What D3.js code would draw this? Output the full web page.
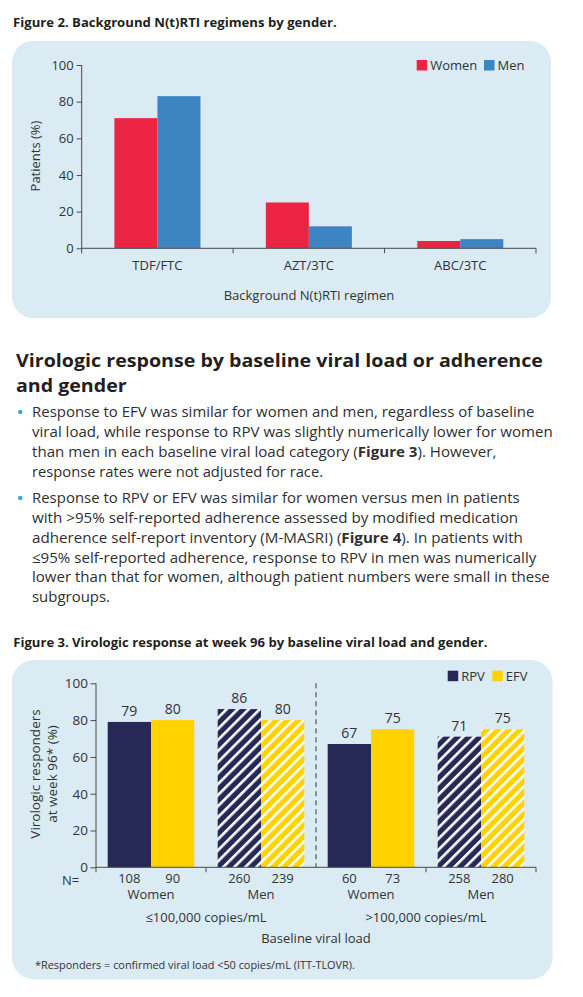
<!DOCTYPE html>
<html><head><meta charset="utf-8">
<script src="https://cdn.jsdelivr.net/npm/d3@7"></script>
<style>
body{margin:0;background:#fff}
svg{display:block}
text{font-family:"Open Sans",sans-serif}
</style>
</head><body>
<svg id="c" width="583" height="997"></svg>
<script>
// ---------- Figure 2 data ----------
const regimens = ["TDF/FTC", "AZT/3TC", "ABC/3TC"];
const genders = ["Women", "Men"];
const womenPct = [71, 25, 4];
const menPct = [83, 12, 5];
const fig2Ticks = [0, 20, 40, 60, 80, 100];

// ---------- Figure 3 data ----------
const groups = ["lowWomen", "lowMen", "highWomen", "highMen"];
const groupSex = ["Women", "Men", "Women", "Men"];
const loadCats = ["\u2264100,000 copies/mL", ">100,000 copies/mL"];
const drugs = ["RPV", "EFV"];
const rpvPct = [79, 86, 67, 71];
const efvPct = [80, 80, 75, 75];
const rpvN = [108, 260, 60, 258];
const efvN = [90, 239, 73, 280];
const fig3Ticks = [0, 20, 40, 60, 80, 100];

// ---------- styles ----------
const PANEL = "#DAEBF3", AX = "#4a4a4a", TXT = "#333333", DARK = "#231F20";
const RED = "#EC2444", BLUE = "#3D84C3", NAVY = "#262855", YEL = "#FFD200";

const svg = d3.select("#c");
svg.append("rect").attr("width", 583).attr("height", 997).attr("fill", "#fff");
const defs = svg.append("defs");
function hatch(id, color) {
  const p = defs.append("pattern").attr("id", id).attr("patternUnits", "userSpaceOnUse")
    .attr("width", 7.8).attr("height", 7.8).attr("patternTransform", "rotate(45)");
  p.append("rect").attr("width", 7.8).attr("height", 7.8).attr("fill", color);
  p.append("rect").attr("width", 2.6).attr("height", 7.8).attr("fill", "#fff");
}
hatch("hNavy", NAVY); hatch("hYel", YEL);

// text fitting helper: segments [[str, bold], ...]
function fitLine(segs, x, y, endX, size, weight, color) {
  const t = svg.append("text").attr("x", 0).attr("y", 0)
    .attr("font-size", size).attr("fill", color).attr("font-weight", weight);
  segs.forEach(s => t.append("tspan").attr("font-weight", s[1] ? 700 : weight).text(s[0]));
  const w = t.node().getComputedTextLength();
  const sx = (endX - x) / w;
  t.attr("transform", `translate(${x},${y}) scale(${sx},1)`);
  return t;
}

// ---------- Figure 2 ----------
fitLine([["Figure 2. Background N(t)RTI regimens by gender.", true]], 13, 26.5, 337, 13, 700, DARK);
svg.append("rect").attr("x", 12).attr("y", 41).attr("width", 539).attr("height", 277)
  .attr("rx", 21).attr("fill", PANEL);

const y2 = d3.scaleLinear().domain([0, 100]).range([248.3, 65]);
const x2 = d3.scaleBand().domain(regimens).range([81.7, 536]);
const xs2 = d3.scaleBand().domain(genders).range([0, x2.bandwidth()]).paddingOuter(0.76);
const g2 = svg.append("g");

const rows2 = regimens.map((r, i) => ({ r, vals: [["Women", womenPct[i]], ["Men", menPct[i]]] }));
g2.selectAll("g.cat").data(rows2).join("g").attr("class", "cat")
  .attr("transform", d => `translate(${x2(d.r)},0)`)
  .selectAll("rect").data(d => d.vals).join("rect")
  .attr("x", d => xs2(d[0])).attr("width", xs2.bandwidth())
  .attr("y", d => y2(d[1])).attr("height", d => y2(0) - y2(d[1]))
  .attr("fill", d => d[0] === "Women" ? RED : BLUE);

// y axis
const ya2 = g2.append("g").attr("transform", `translate(${x2.range()[0]},0)`)
  .call(d3.axisLeft(y2).tickValues(fig2Ticks).tickSize(5).tickSizeOuter(0).tickPadding(3));
ya2.select(".domain").remove();
ya2.selectAll("line").attr("stroke", AX);
ya2.selectAll("text").attr("font-family", "Open Sans").attr("font-size", 13).attr("fill", TXT);
g2.append("line").attr("x1", x2.range()[0]).attr("x2", x2.range()[0])
  .attr("y1", y2(100)).attr("y2", y2(0) + 5).attr("stroke", AX);
// x axis
g2.append("line").attr("x1", x2.range()[0]).attr("x2", x2.range()[1])
  .attr("y1", y2(0)).attr("y2", y2(0)).attr("stroke", AX);
g2.selectAll("line.bt").data(regimens).join("line").attr("class", "bt")
  .attr("x1", d => x2(d) + x2.bandwidth()).attr("x2", d => x2(d) + x2.bandwidth())
  .attr("y1", y2(0)).attr("y2", y2(0) + 5).attr("stroke", AX);
g2.selectAll("text.cl").data(regimens).join("text").attr("class", "cl")
  .attr("x", d => x2(d) + x2.bandwidth() / 2).attr("y", 269.5)
  .attr("text-anchor", "middle").attr("font-size", 13).attr("fill", TXT).text(d => d);
g2.append("text").attr("x", 309).attr("y", 299.5).attr("text-anchor", "middle")
  .attr("font-size", 13).attr("fill", TXT).text("Background N(t)RTI regimen");
g2.append("text").attr("transform", "translate(39.5,156) rotate(-90)").attr("text-anchor", "middle")
  .attr("font-size", 13).attr("fill", TXT).text("Patients (%)");
// legend
const leg2 = [["Women", RED, 416.7], ["Men", BLUE, 484]];
g2.selectAll("g.lg").data(leg2).join("g").attr("class", "lg").each(function (d) {
  const g = d3.select(this);
  g.append("rect").attr("x", d[2]).attr("y", 60).attr("width", 10.5).attr("height", 10.5).attr("fill", d[1]);
  g.append("text").attr("x", d[2] + 13.5).attr("y", 69.8).attr("font-size", 13).attr("fill", TXT).text(d[0]);
});

// ---------- Text section ----------
fitLine([["Virologic response by baseline viral load or adherence", true]], 16, 366.7, 543, 18, 700, DARK);
fitLine([["and gender", true]], 16, 391.7, 126.7, 18, 700, DARK);

const body = [
  [[["Response to EFV was similar for women and men, regardless of baseline", false]], 417.3, 535, true],
  [[["viral load, while response to RPV was slightly numerically lower for women", false]], 437.1, 553.3],
  [[["than men in each baseline viral load category (", false], ["Figure 3", true], ["). However,", false]], 456.8, 496.7],
  [[["response rates were not adjusted for race.", false]], 476.5, 323.3],
  [[["Response to RPV or EFV was similar for women versus men in patients", false]], 503.3, 520, true],
  [[["with >95% self-reported adherence assessed by modified medication", false]], 523.1, 518.3],
  [[["adherence self-report inventory (M-MASRI) (", false], ["Figure 4", true], ["). In patients with", false]], 542.8, 523.3],
  [[["\u226495% self-reported adherence, response to RPV in men was numerically", false]], 562.6, 536.7],
  [[["lower than that for women, although patient numbers were small in these", false]], 582.3, 550],
  [[["subgroups.", false]], 602, 110]
];
body.forEach(l => {
  fitLine(l[0], 32, l[1], l[2], 15, 400, "#2f2f2f");
  if (l[3]) svg.append("circle").attr("cx", 20.3).attr("cy", l[1] - 5.3).attr("r", 2.3).attr("fill", "#45A6D6");
});

// ---------- Figure 3 ----------
fitLine([["Figure 3. Virologic response at week 96 by baseline viral load and gender.", true]], 13.3, 646.7, 488, 13, 700, DARK);
svg.append("rect").attr("x", 12).attr("y", 660).attr("width", 540.5).attr("height", 319.5)
  .attr("rx", 22).attr("fill", PANEL);

const y3 = d3.scaleLinear().domain([0, 100]).range([867.3, 683.3]);
const x3 = d3.scaleBand().domain(groups).range([96, 536]);
const xs3 = d3.scaleBand().domain(drugs).range([0, x3.bandwidth()]).paddingOuter(0.27);
const g3 = svg.append("g");

const rows3 = groups.map((gname, i) => ({
  g: gname, men: groupSex[i] === "Men",
  vals: [{ d: "RPV", v: rpvPct[i], n: rpvN[i] }, { d: "EFV", v: efvPct[i], n: efvN[i] }]
}));
const cats = g3.selectAll("g.cat").data(rows3).join("g").attr("class", "cat")
  .attr("transform", d => `translate(${x3(d.g)},0)`);
cats.each(function (row) {
  const g = d3.select(this);
  g.selectAll("rect").data(row.vals).join("rect")
    .attr("x", d => xs3(d.d)).attr("width", xs3.bandwidth())
    .attr("y", d => y3(d.v)).attr("height", d => y3(0) - y3(d.v))
    .attr("fill", d => row.men ? (d.d === "RPV" ? "url(#hNavy)" : "url(#hYel)") : (d.d === "RPV" ? NAVY : YEL));
  g.selectAll("text.v").data(row.vals).join("text").attr("class", "v")
    .attr("x", d => xs3(d.d) + xs3.bandwidth() / 2).attr("y", d => y3(d.v) - 6)
    .attr("text-anchor", "middle").attr("font-size", 14).attr("fill", TXT).text(d => d.v);
  g.selectAll("text.n").data(row.vals).join("text").attr("class", "n")
    .attr("x", d => xs3(d.d) + xs3.bandwidth() / 2).attr("y", 883.3)
    .attr("text-anchor", "middle").attr("font-size", 13).attr("fill", TXT).text(d => d.n);
  g.append("text").attr("x", x3.bandwidth() / 2).attr("y", 899.3).attr("text-anchor", "middle")
    .attr("font-size", 13).attr("fill", TXT).text(groupSex[groups.indexOf(row.g)]);
});

// y axis
const ya3 = g3.append("g").attr("transform", `translate(${x3.range()[0]},0)`)
  .call(d3.axisLeft(y3).tickValues(fig3Ticks).tickSize(5.5).tickSizeOuter(0).tickPadding(2.5));
ya3.select(".domain").remove();
ya3.selectAll("line").attr("stroke", AX);
ya3.selectAll("text").attr("font-family", "Open Sans").attr("font-size", 13.5).attr("fill", TXT);
g3.append("line").attr("x1", x3.range()[0]).attr("x2", x3.range()[0])
  .attr("y1", y3(100)).attr("y2", y3(0) + 5).attr("stroke", AX);
// x axis
g3.append("line").attr("x1", x3.range()[0]).attr("x2", x3.range()[1])
  .attr("y1", y3(0)).attr("y2", y3(0)).attr("stroke", AX);
g3.selectAll("line.bt").data(groups.filter((d, i) => i !== 1)).join("line").attr("class", "bt")
  .attr("x1", d => x3(d) + x3.bandwidth()).attr("x2", d => x3(d) + x3.bandwidth())
  .attr("y1", y3(0)).attr("y2", y3(0) + 5).attr("stroke", AX);
// dashed divider between load categories
const divX = x3(groups[2]);
g3.append("line").attr("x1", divX).attr("x2", divX).attr("y1", y3(100)).attr("y2", y3(0))
  .attr("stroke", "#555").attr("stroke-width", 1.2).attr("stroke-dasharray", "5,4");
g3.append("text").attr("x", 62).attr("y", 885).attr("font-size", 13).attr("fill", TXT).text("N=");
// load category labels
g3.selectAll("text.lc").data(loadCats).join("text").attr("class", "lc")
  .attr("x", (d, i) => x3(groups[i * 2]) + x3.bandwidth())
  .attr("y", 921.7).attr("text-anchor", "middle").attr("font-size", 13).attr("fill", TXT).text(d => d);
g3.append("text").attr("x", 316).attr("y", 943.3).attr("text-anchor", "middle")
  .attr("font-size", 13).attr("fill", TXT).text("Baseline viral load");
// y label
const yl = g3.append("text").attr("transform", "translate(0,774) rotate(-90)")
  .attr("text-anchor", "middle").attr("font-size", 13.5).attr("fill", TXT);
yl.append("tspan").attr("x", 0).attr("y", 40).text("Virologic responders");
yl.append("tspan").attr("x", 0).attr("y", 57).text("at week 96* (%)");
// legend
const leg3 = [["RPV", NAVY, 447.7], ["EFV", YEL, 492.3]];
g3.selectAll("g.lg").data(leg3).join("g").attr("class", "lg").each(function (d) {
  const g = d3.select(this);
  g.append("rect").attr("x", d[2]).attr("y", 670.7).attr("width", 10.5).attr("height", 10.5).attr("fill", d[1]);
  g.append("text").attr("x", d[2] + 13.5).attr("y", 680.8).attr("font-size", 13).attr("fill", TXT).text(d[0]);
});
// footnote
fitLine([["*Responders = confirmed viral load <50 copies/mL (ITT-TLOVR).", false]], 35, 969.3, 355, 11, 400, TXT);
</script>
</body></html>
